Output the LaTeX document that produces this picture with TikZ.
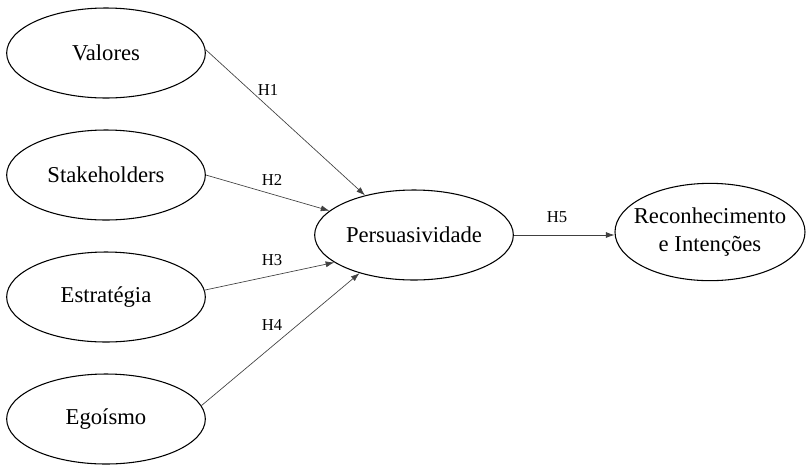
\documentclass[tikz,border=0pt]{standalone}
\usepackage{fontspec}
\setmainfont{Liberation Serif}
\usetikzlibrary{shapes.geometric,arrows.meta}

\tikzset{
    construto/.style={draw, ellipse, line width=0.8pt, minimum width=149pt, minimum height=67.5pt,
        inner sep=0pt, align=center, font=\fontsize{17}{21}\selectfont},
    hipotese/.style={draw=black!75, line width=0.5pt, -{Latex[length=6.5pt,width=4.5pt]}},
    rotulo/.style={font=\fontsize{12.5}{14}\selectfont}
}

\begin{document}
\begin{tikzpicture}[x=0.75pt, y=-0.75pt]
        \useasboundingbox (0,0) rectangle (806,465);

        % Constructs on the left
        \node[construto] (val) at (106,53) {Valores};
        \node[construto] (stk) at (106,175) {Stakeholders};
        \node[construto] (est) at (106,297) {Estratégia};
        \node[construto] (ego) at (106,419) {Egoísmo};

        % Mediator and outcome
        \node[construto] (per) at (414,235) {Persuasividade};
        \node[construto, minimum width=142.5pt, minimum height=73pt, inner xsep=-7pt] (rec) at (710,232) {Reconhecimento\\e Intenções};

        % Hypotheses
        \draw[hipotese] (val.2) -- (per.141);
        \draw[hipotese] (stk.east) -- (per.164);
        \draw[hipotese] (est.4) -- (per.199);
        \draw[hipotese] (ego.8) -- (per.215);
        \draw[hipotese] (per.east) -- (rec.west |- per.east);

        \node[rotulo] (h1) at (268,90) {H1};
        \node[rotulo] (h2) at (272,180) {H2};
        \node[rotulo] (h3) at (272,260) {H3};
        \node[rotulo] (h4) at (272,325) {H4};
        \node[rotulo] (h5) at (557,217) {H5};
    \end{tikzpicture}
\end{document}
